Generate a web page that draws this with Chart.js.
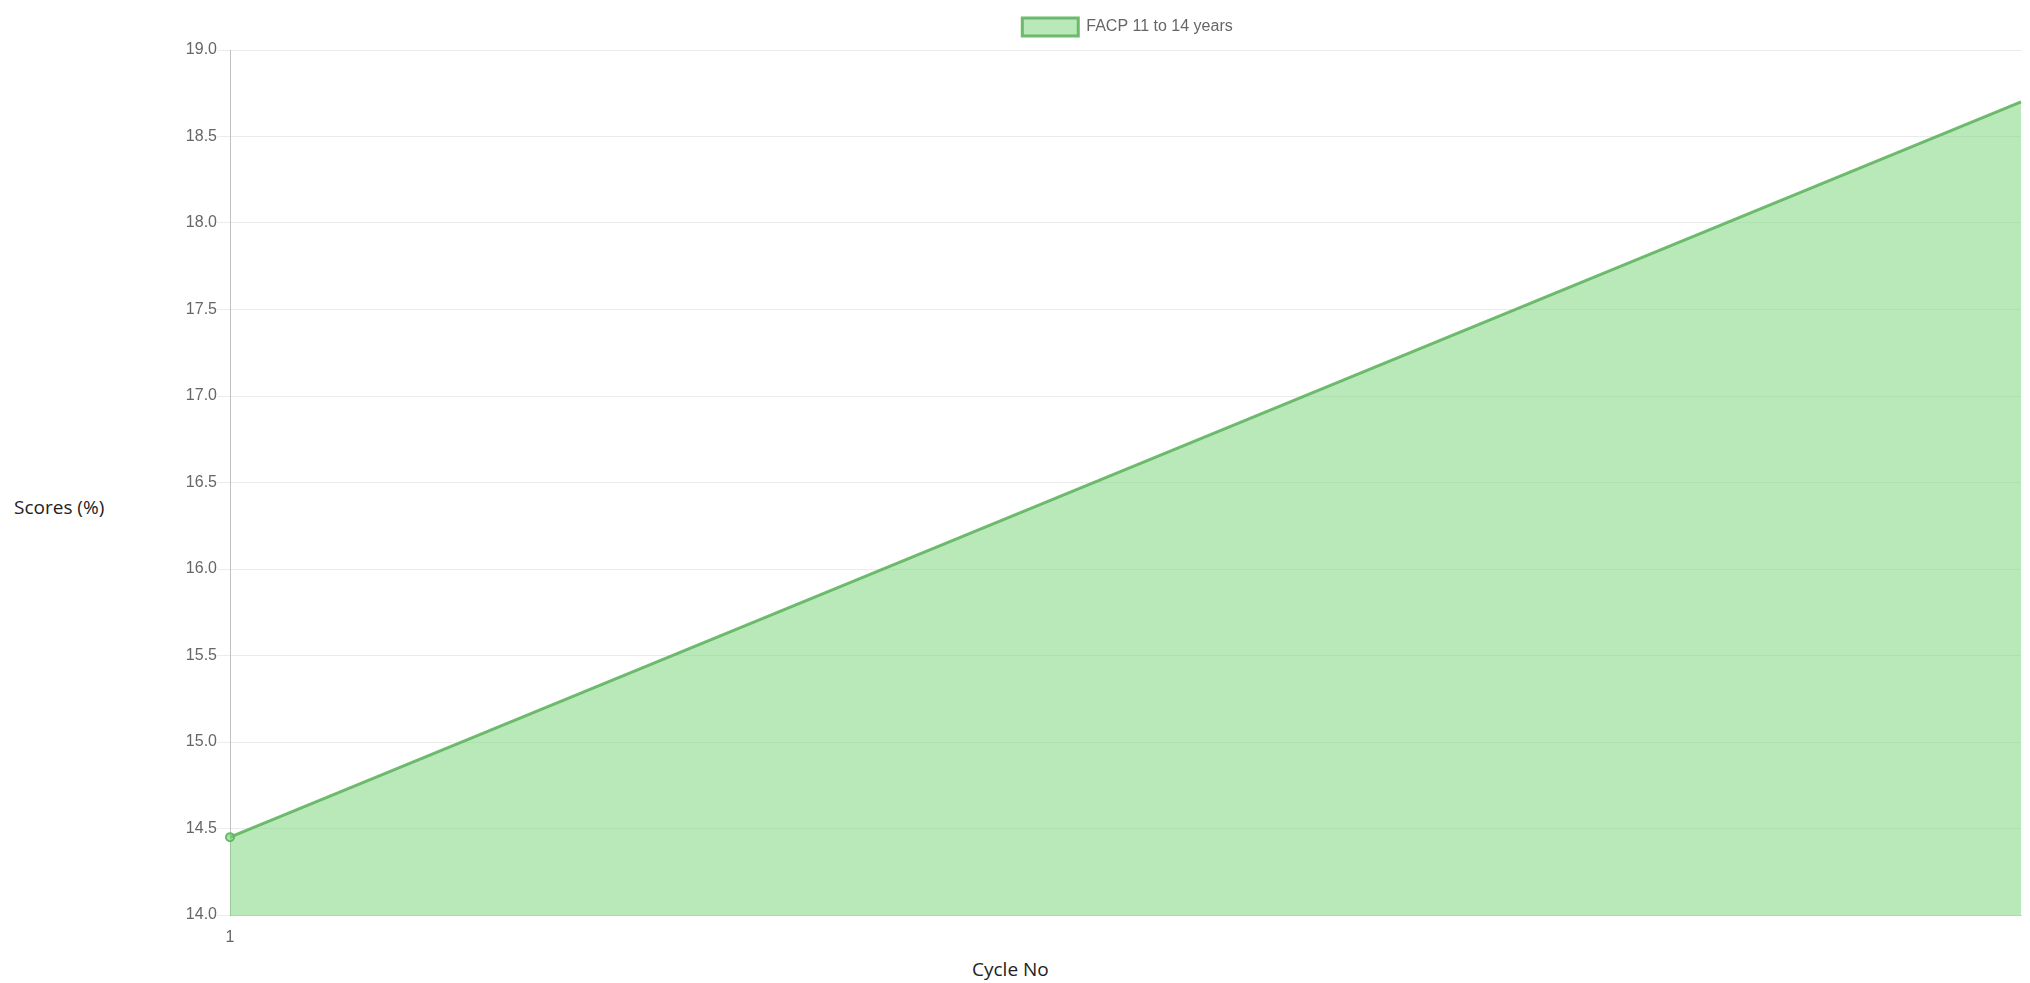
<!DOCTYPE html>
<html>
<head>
<meta charset="utf-8">
<script src="https://cdn.jsdelivr.net/npm/chart.js@4/dist/chart.umd.min.js"></script>
<style>
    body { margin: 0; background: #fff; overflow: hidden; }
    #wrap { position: absolute; left: 120px; top: 3px; width: 1907px; height: 952px; }
    .axis-title { position: absolute; font-family: "Open Sans", "Noto Sans", sans-serif; font-size: 19px; color: #222; white-space: nowrap; }
    #yTitle { left: 14px; top: 494px; }
    #xTitle { left: 972px; top: 956px; }
</style>
</head>
<body>
<div id="wrap"><canvas id="myChart"></canvas></div>
<div class="axis-title" id="yTitle">Scores (%)</div>
<div class="axis-title" id="xTitle">Cycle No</div>
<script>
var cycleLabels = ["1", ""];
var seriesName = "FACP 11 to 14 years";
var scoreValues = [14.45, 18.7];
var yTicks = { min: 14, max: 19, step: 0.5 };

Chart.defaults.font.family = "'Liberation Sans', Arial, sans-serif";
Chart.defaults.font.size = 16;
Chart.defaults.color = "#666";

// the original legend sits a bit right of the canvas centre and slightly higher
var shiftLegend = {
    id: 'shiftLegend',
    afterLayout: function(chart) {
        chart.legend.left += 54;
        chart.legend.right += 54;
        chart.legend.top -= 4;
        chart.legend.bottom -= 4;
    }
};

var config = {
    type: 'line',
    data: {
        labels: cycleLabels,
        datasets: [{
            label: seriesName,
            data: scoreValues,
            fill: true,
            tension: 0,
            backgroundColor: "rgba(120, 210, 120, 0.52)",
            borderColor: "rgba(95, 180, 95, 0.9)",
            borderWidth: 3,
            pointRadius: [4, 0],
            pointBackgroundColor: "rgba(120, 210, 120, 0.6)",
            pointBorderColor: "rgba(95, 180, 95, 0.9)",
            pointBorderWidth: 2
        }]
    },
    options: {
        responsive: true,
        maintainAspectRatio: false,
        animation: false,
        layout: { padding: { left: 0, right: 0, top: 4, bottom: 0 } },
        plugins: {
            legend: {
                labels: { boxWidth: 56, boxHeight: 18, padding: 15 }
            },
            tooltip: { enabled: false }
        },
        scales: {
            x: {
                offset: false,
                grid: { display: false, tickLength: 13 },
                border: { color: "rgba(0,0,0,0.15)" },
                ticks: { padding: 0, maxRotation: 0 },
                afterFit: function(scale) { scale.height = 40; }
            },
            y: {
                min: yTicks.min,
                max: yTicks.max,
                grid: { color: "rgba(0,0,0,0.08)", tickLength: 13 },
                border: { color: "rgba(0,0,0,0.25)" },
                ticks: {
                    stepSize: yTicks.step,
                    padding: 0,
                    callback: function(value) { return value.toFixed(1); }
                },
                afterFit: function(scale) { scale.width = 110; }
            }
        }
    },
    plugins: [shiftLegend]
};

var myChart = new Chart(document.getElementById("myChart").getContext("2d"), config);
</script>
</body>
</html>
